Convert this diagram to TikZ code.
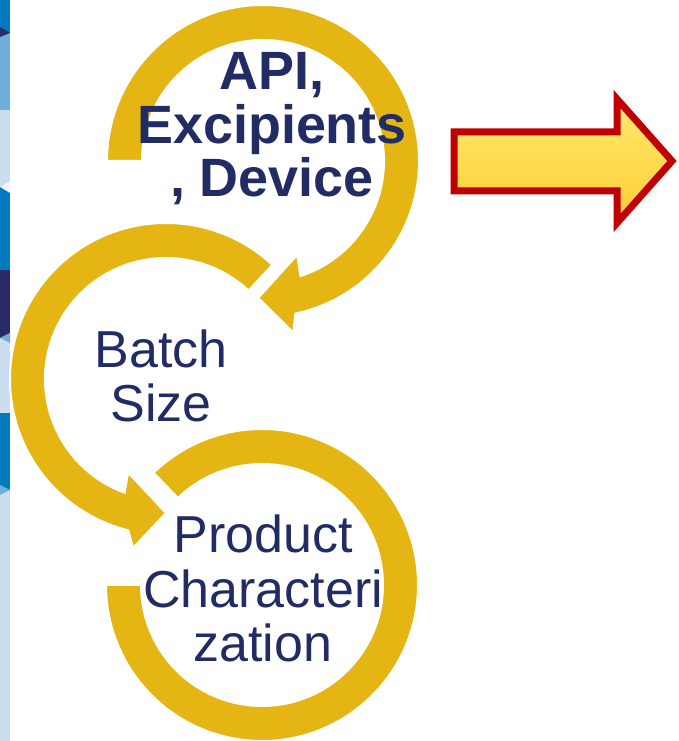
\documentclass[tikz,border=0pt]{standalone}
\usepackage{fontspec}
\setmainfont{Liberation Sans}
\definecolor{ringgold}{RGB}{228,181,19}
\definecolor{labelnavy}{RGB}{34,44,100}
\definecolor{arrowred}{RGB}{192,0,0}
\definecolor{stripmid}{RGB}{0,122,190}
\definecolor{stripsoft}{RGB}{111,174,216}
\definecolor{striplight}{RGB}{202,222,240}
\definecolor{stripnavy}{RGB}{42,42,104}
\tikzset{
  ring/.style={fill=ringgold,draw=white,line width=0.04cm,line join=miter},
  lbl/.style={text=labelnavy,align=center,inner sep=0pt,anchor=base},
  bigarrow/.style={draw=arrowred,line width=0.14cm,line join=miter,
    top color={rgb,255:red,255;green,234;blue,112},
    bottom color={rgb,255:red,255;green,204;blue,51}}
}
\begin{document}
\begin{tikzpicture}[x=0.02cm,y=0.02cm]
  \useasboundingbox (0,0) rectangle (679,741);
  % left strip
  \foreach \ya/\yb/\col in {741/708/stripmid,708/631/stripsoft,631/554/striplight,
      554/471/stripmid,471/403/stripnavy,403/328/striplight,328/251/stripmid,251/0/striplight}
    \fill[\col] (0,\ya) rectangle (10,\yb);
  \fill[stripnavy] (0,714) -- (10,708) -- (0,704) -- cycle;
  \fill[white!70!striplight] (10,560) -- (0,554) -- (10,548) -- cycle;
  \fill[stripsoft] (10,408) -- (0,403) -- (10,398) -- cycle;
  \fill[stripsoft] (0,256) -- (10,251) -- (0,246) -- cycle;
  % circular arrows
  \path[ring,shift={(262,156)}] (134:156) arc[start angle=134,end angle=-180,radius=156]
    -- (180:121) arc[start angle=-180,end angle=134,radius=121] -- cycle;
  \path[ring,shift={(166,362)}] (47:156) arc[start angle=47,end angle=256,radius=156]
    -- (259:172) -- (270:134) -- (248:101) -- (250:121)
    arc[start angle=250,end angle=47,radius=121] -- cycle;
  \path[ring,shift={(263,580)}] (180:156) arc[start angle=180,end angle=-78,radius=156]
    -- (-80:174) -- (-92:137) -- (-70:100) -- (-72:121)
    arc[start angle=-72,end angle=180,radius=121] -- cycle;
  % labels
  \node[lbl,font=\bfseries\fontsize{30.7}{30.7}\selectfont] (api) at (272,544) {API,\\Excipients\\, Device};
  \node[lbl,font=\fontsize{29.6}{31.3}\selectfont] (batch) at (161,319) {Batch\\Size};
  \node[lbl,font=\fontsize{29.6}{31.3}\selectfont] (product) at (263,79) {Product\\Characteri\\zation};
  % right arrow
  \draw[bigarrow] (454,609) -- (617,609) -- (617,642) -- (672,580) -- (617,518)
    -- (617,550) -- (454,550) -- cycle;
\end{tikzpicture}
\end{document}
